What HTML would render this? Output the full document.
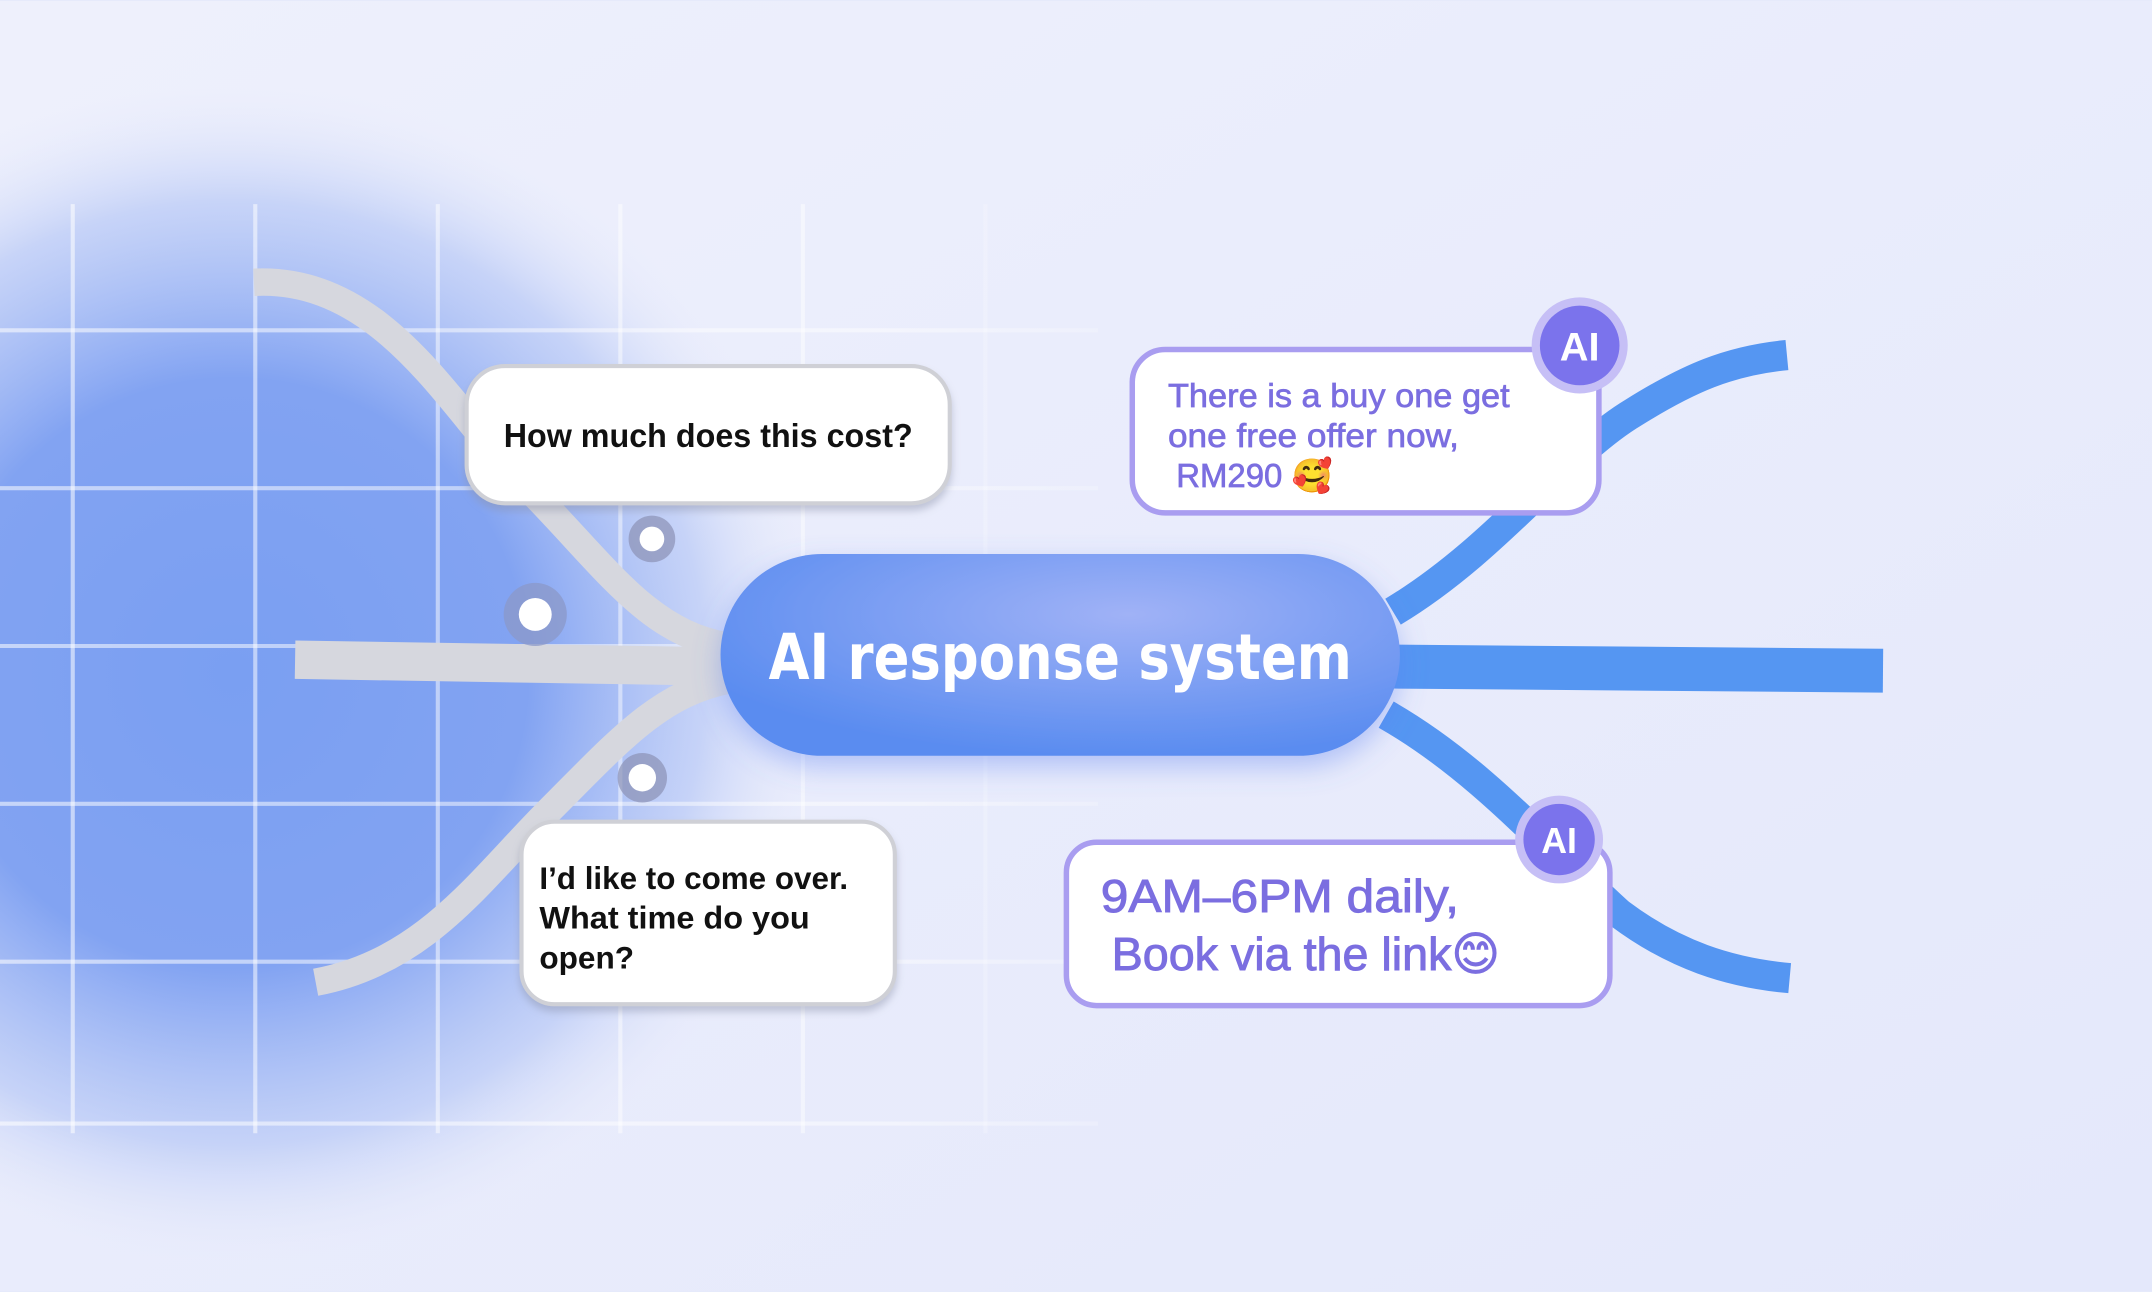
<!DOCTYPE html>
<html><head><meta charset="utf-8"><style>
html,body{margin:0;padding:0;width:2152px;height:1292px;overflow:hidden;background:#e6eafb}
svg{display:block}
text{font-family:"Liberation Sans","DejaVu Sans",sans-serif}
</style></head><body>
<svg width="2152" height="1292" viewBox="0 0 1568 940" xmlns="http://www.w3.org/2000/svg">
<defs>
<radialGradient id="glow" cx="170" cy="490" r="430" gradientUnits="userSpaceOnUse">
<stop offset="0" stop-color="#7a9ff2"/><stop offset="0.5" stop-color="#82a3f2"/><stop offset="0.8" stop-color="#b7c8f6" stop-opacity="0.7"/><stop offset="1" stop-color="#e6eafb" stop-opacity="0"/>
</radialGradient>
<linearGradient id="gridfade" x1="0" x2="1" y1="0" y2="0"><stop offset="0" stop-color="#fff" stop-opacity="0.55"/><stop offset="0.8" stop-color="#fff" stop-opacity="0.45"/><stop offset="1" stop-color="#fff" stop-opacity="0.2"/></linearGradient>
<radialGradient id="pill" cx="0.6" cy="0.3" r="0.7"><stop offset="0" stop-color="#a0b2f6"/><stop offset="1" stop-color="#5a8cf0"/></radialGradient>
<linearGradient id="bg" x1="0" y1="0" x2="1" y2="1"><stop offset="0" stop-color="#eef0fc"/><stop offset="1" stop-color="#e4e8fb"/></linearGradient>
<filter id="sh" x="-20%" y="-20%" width="140%" height="160%"><feDropShadow dx="0" dy="4" stdDeviation="3" flood-color="#8a8fa8" flood-opacity="0.45"/></filter>
<filter id="ps" x="-20%" y="-30%" width="140%" height="170%"><feDropShadow dx="0" dy="8" stdDeviation="10" flood-color="#5a7ef0" flood-opacity="0.4"/></filter>
</defs>
<rect width="1568" height="940" fill="url(#bg)"/>
<rect width="1568" height="940" fill="url(#glow)"/>
<g stroke="url(#gridfade)" stroke-width="3" fill="none">
<path d="M53 148V825M186 148V825M319 148V825M452 148V825M585 148V825M718 148V825"/>
<path d="M0 240H800M0 355H800M0 470H800M0 585H800M0 700H800M0 818H800"/>
</g>
<g fill="none" stroke="#d6d7de" stroke-linecap="butt">
<path d="M185 205 C280 200 330 300 380 350 C440 410 470 460 530 470" stroke-width="20"/>
<path d="M215 480 L530 485" stroke-width="28"/>
<path d="M230 715 C310 700 350 640 400 590 C450 540 480 505 530 495" stroke-width="20"/>
</g>
<g>
<circle cx="475" cy="392" r="17" fill="#8b92b5" opacity="0.7"/><circle cx="475" cy="392" r="9" fill="#fff"/>
<circle cx="390" cy="447" r="23" fill="#8b98c8" opacity="0.75"/><circle cx="390" cy="447" r="12" fill="#fff"/>
<circle cx="468" cy="566" r="18" fill="#8b92b5" opacity="0.7"/><circle cx="468" cy="566" r="10" fill="#fff"/>
</g>
<g fill="none" stroke="#5596f2">
<path d="M1015 445 C1090 400 1140 330 1190 300 C1230 275 1260 262 1302 258" stroke-width="22"/>
<path d="M1015 485 L1372 488" stroke-width="32"/>
<path d="M1010 520 C1080 560 1130 620 1180 665 C1220 695 1260 708 1304 712" stroke-width="22"/>
</g>
<rect x="525" y="403" width="495" height="147" rx="74" fill="url(#pill)" filter="url(#ps)"/>
<text x="560" y="494" textLength="425" lengthAdjust="spacingAndGlyphs" fill="#fff" font-size="46" font-weight="bold" style="font-family:'DejaVu Sans',sans-serif">AI response system</text>
<rect x="340" y="266" width="352" height="100" rx="28" fill="#fff" stroke="#cfd0d6" stroke-width="3" filter="url(#sh)"/>
<text x="367" y="325" font-size="24" font-weight="bold" fill="#111" textLength="298" lengthAdjust="spacingAndGlyphs">How much does this cost?</text>
<rect x="380" y="598" width="272" height="133" rx="24" fill="#fff" stroke="#cfd0d6" stroke-width="3" filter="url(#sh)"/>
<text font-size="23" font-weight="bold" fill="#111"><tspan x="393" y="647" textLength="225" lengthAdjust="spacingAndGlyphs">I’d like to come over.</tspan><tspan x="393" y="676" textLength="197" lengthAdjust="spacingAndGlyphs">What time do you</tspan><tspan x="393" y="705" textLength="69" lengthAdjust="spacingAndGlyphs">open?</tspan></text>
<rect x="825" y="254" width="340" height="119" rx="24" fill="#fff" stroke="#a99df0" stroke-width="4"/>
<text font-size="24" fill="#7b6ee0" stroke="#7b6ee0" stroke-width="0.5"><tspan x="851" y="296" textLength="249" lengthAdjust="spacingAndGlyphs">There is a buy one get</tspan><tspan x="851" y="325" textLength="212" lengthAdjust="spacingAndGlyphs">one free offer now,</tspan><tspan x="857" y="354">RM290 🥰</tspan></text>
<circle cx="1151" cy="251" r="35" fill="#c6bff6"/><circle cx="1151" cy="251" r="29" fill="#7b73ec"/>
<text x="1151" y="262" text-anchor="middle" font-size="29" font-weight="bold" fill="#fff">AI</text>
<rect x="777" y="613" width="396" height="119" rx="22" fill="#fff" stroke="#a99df0" stroke-width="4"/>
<text font-size="34" fill="#7b6ee0" stroke="#7b6ee0" stroke-width="0.7"><tspan x="802" y="664" textLength="261" lengthAdjust="spacingAndGlyphs">9AM–6PM daily,</tspan><tspan x="810" y="706">Book via the link😊</tspan></text>
<circle cx="1136" cy="611" r="32" fill="#c6bff6"/><circle cx="1136" cy="611" r="26" fill="#7b73ec"/>
<text x="1136" y="621" text-anchor="middle" font-size="26" font-weight="bold" fill="#fff">AI</text>
</svg>
</body></html>
